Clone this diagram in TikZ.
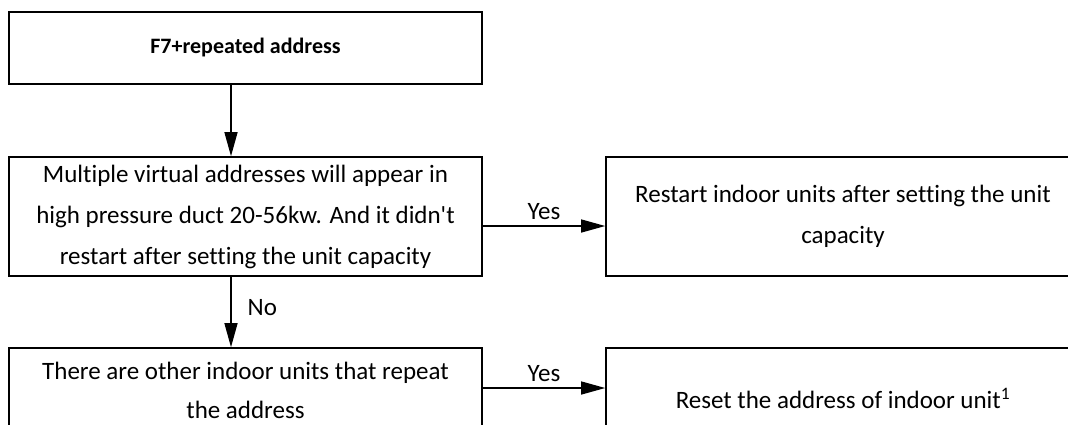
\documentclass[tikz,border=0pt]{standalone}
\usepackage{fontspec}
\setmainfont{Carlito}[Ligatures={TeXOff,CommonOff}]
\usetikzlibrary{arrows.meta}
\begin{document}
\begin{tikzpicture}[x=1pt,y=-1pt,
  box/.style={draw=black, line width=1.6pt, rectangle, minimum width=473pt, align=center, inner sep=0pt, font=\fontsize{25}{41}\selectfont},
  arr/.style={draw=black, line width=1.3pt, -{Triangle[length=24pt,width=13pt]}},
  lbl/.style={font=\fontsize{25}{30}\selectfont, inner sep=0pt}]
\useasboundingbox (0,0) rectangle (1068,424);
\clip (0,0) rectangle (1068,424);
\node[box, minimum height=72pt, font=\fontsize{22}{26}\selectfont\bfseries] (b1) at (245.5,48) {F7+repeated address};
\node[box, minimum height=119pt] (b2) at (245.5,216.5) {Multiple virtual addresses will appear in\\high pressure duct 20-56kw. And it didn't\\restart after setting the unit capacity};
\node[box, minimum width=474pt, minimum height=119pt] (b3) at (843,216.5) {Restart indoor units after setting the unit\\capacity};
\node[box, minimum height=84pt, font=\fontsize{25}{39}\selectfont] (b4) at (245.5,390) {There are other indoor units that repeat\\the address};
\node[box, minimum width=474pt, minimum height=100pt] (b5) at (843,398) {Reset the address of indoor unit\textsuperscript{1}};
\coordinate (c1) at (231,0);
\coordinate (y1) at (0,226);
\coordinate (y2) at (0,388);
\draw[arr] (b1.south -| c1) -- (b2.north -| c1);
\draw[arr] (b2.south -| c1) -- node[lbl, right=16pt, pos=0.43] (no) {No} (b4.north -| c1);
\draw[arr] (b2.east |- y1) -- node[lbl, above=6pt] (yes1) {Yes} (b3.west |- y1);
\draw[arr] (b4.east |- y2) -- node[lbl, above=6pt] (yes2) {Yes} (b5.west |- y2);
\end{tikzpicture}
\end{document}
